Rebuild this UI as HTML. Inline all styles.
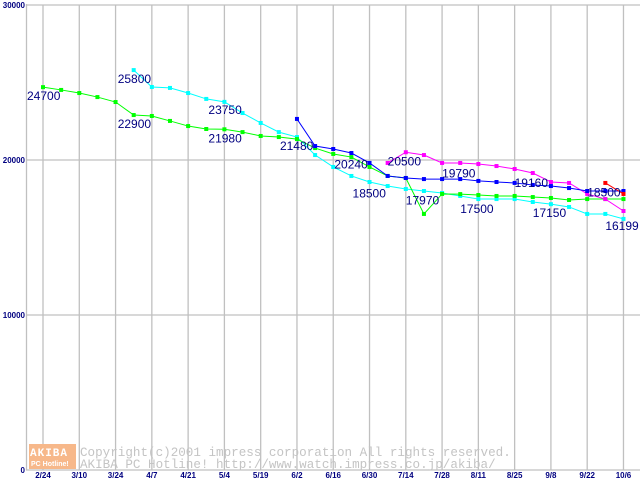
<!DOCTYPE html>
<html><head><meta charset="utf-8"><style>
html,body{margin:0;padding:0;background:#fff;}
svg{display:block;}
</style></head><body>
<svg id="chart" width="640" height="480" xmlns="http://www.w3.org/2000/svg" font-family="Liberation Sans, sans-serif">
<g id="grid"></g>
<g id="axes"></g>
<g id="wm">
  <rect x="29" y="444" width="47" height="25" fill="#f7b88a"/>
  <text x="30" y="456" font-size="11" font-weight="bold" fill="#fff" letter-spacing="1" font-family="Liberation Mono, monospace">AKIBA</text>
  <text x="31" y="466" font-size="7" font-weight="bold" fill="#fff">PC Hotline!</text>
  <text x="80" y="456" font-size="12.6" fill="#c4c4c4" font-family="Liberation Mono, monospace">Copyright(c)2001 impress corporation All rights reserved.</text>
  <text x="80" y="468" font-size="12.6" fill="#c4c4c4" font-family="Liberation Mono, monospace">AKIBA PC Hotline!  http://www.watch.impress.co.jp/akiba/</text>
</g>
<g id="series"></g>
<g id="labels"></g>
</svg>
<script>
const xLabels = ["2/24","3/10","3/24","4/7","4/21","5/4","5/19","6/2","6/16","6/30","7/14","7/28","8/11","8/25","9/8","9/22","10/6"];
const yTicks = [0,10000,20000,30000];
const greenVals = [24700,24520,24320,24060,23740,22900,22840,22520,22190,22000,21980,21800,21550,21480,21350,20770,20390,20190,19550,18970,18840,16520,17810,17800,17740,17680,17680,17610,17550,17420,17480,17480,17480];
const cyanVals = [null,null,null,null,null,25800,24710,24650,24320,23940,23750,23030,22390,21800,21480,20320,19550,18970,18580,18320,18130,18000,17870,17680,17480,17480,17480,17290,17150,16970,16520,16520,16199];
const blueVals = [null,null,null,null,null,null,null,null,null,null,null,null,null,null,22650,20900,20710,20450,19810,18970,18840,18770,18770,18770,18650,18580,18520,18390,18320,18190,18000,18000,18000];
const magentaVals = [null,null,null,null,null,null,null,null,null,null,null,null,null,null,null,null,null,null,null,19810,20500,20320,19810,19810,19740,19610,19420,19160,18580,18520,17810,17480,16710];
const redVals = [null,null,null,null,null,null,null,null,null,null,null,null,null,null,null,null,null,null,null,null,null,null,null,null,null,null,null,null,null,null,null,18520,17810];
const labelTexts = ["24700","25800","22900","23750","21980","21480","20240","18500","20500","17970","19790","17500","19160","17150","18500","16199"];
const labelWeeks = [0,5,5,10,10,14,17,18,19,20,22,23,26,27,30,31];
const labelVals = [24700,25800,22900,23750,21980,21480,20240,18500,20500,17970,19790,17500,19160,17150,18500,16199];

const NS="http://www.w3.org/2000/svg";
const X0=43, WK=18.14, Y0=470, YS=465/30000;
const xw = w => X0 + w*WK;
const yv = v => Y0 - v*YS;
function el(tag, attrs, parent){const e=document.createElementNS(NS,tag);for(const k in attrs)e.setAttribute(k,attrs[k]);parent.appendChild(e);return e;}
const grid=document.getElementById('grid'), axes=document.getElementById('axes');
xLabels.forEach((t,i)=>{
  const x=xw(i*2);
  const l=el('line',{x1:x,x2:x,y1:5,y2:470,stroke:'#c0c0c0','stroke-width':1.3},grid);
  
  
  const tx=el('text',{x:x,y:478,'font-size':8,'text-anchor':'middle',fill:'#000080','font-weight':'bold'},axes);
  tx.textContent=t;
  
  
});
yTicks.forEach(v=>{
  const y=yv(v);
  const l=el('line',{x1:26,x2:640,y1:y,y2:y,stroke:'#c0c0c0','stroke-width':1.3},grid);
  
  
  const tx=el('text',{x:25,y:y+3,'font-size':8,'text-anchor':'end',fill:'#000080','font-weight':'bold'},axes);
  tx.textContent=String(v);
  
  
});
const ax=el('line',{x1:26.5,x2:26.5,y1:4,y2:470,stroke:'#c0c0c0','stroke-width':1.3},axes);


const sg=document.getElementById('series');
function drawSeries(vals,color,name){
  const pts=[];vals.forEach((v,i)=>{if(v!=null)pts.push([xw(i),yv(v)]);});
  const pl=el('polyline',{points:pts.map(p=>p.join(',')).join(' '),fill:'none',stroke:color,'stroke-width':1},sg);
  
  
  pts.forEach(p=>{
    const r=el('rect',{x:p[0]-2,y:p[1]-2,width:4,height:4,fill:color},sg);
    
    
  });
}
drawSeries(cyanVals,'#00ffff','cyan-series');
drawSeries(greenVals,'#00ff00','green-series');
drawSeries(magentaVals,'#ff00ff','magenta-series');
drawSeries(blueVals,'#0000ff','blue-series');
drawSeries(redVals,'#ff0000','red-series');
const lg=document.getElementById('labels');
const offs=[[-16,13],[-16,13],[-16,13],[-16,12],[-16,13],[-17,13],[-17,12],[-17,14],[0,13],[0,13],[0,14],[0,14],[0,14],[0,13],[0,13],[0,11]];
labelTexts.forEach((t,i)=>{
  const tx=el('text',{x:xw(labelWeeks[i])+offs[i][0],y:yv(labelVals[i])+offs[i][1],'font-size':12,fill:'#000080'},lg);
  tx.textContent=t;
  
  
});
</script>
</body></html>
